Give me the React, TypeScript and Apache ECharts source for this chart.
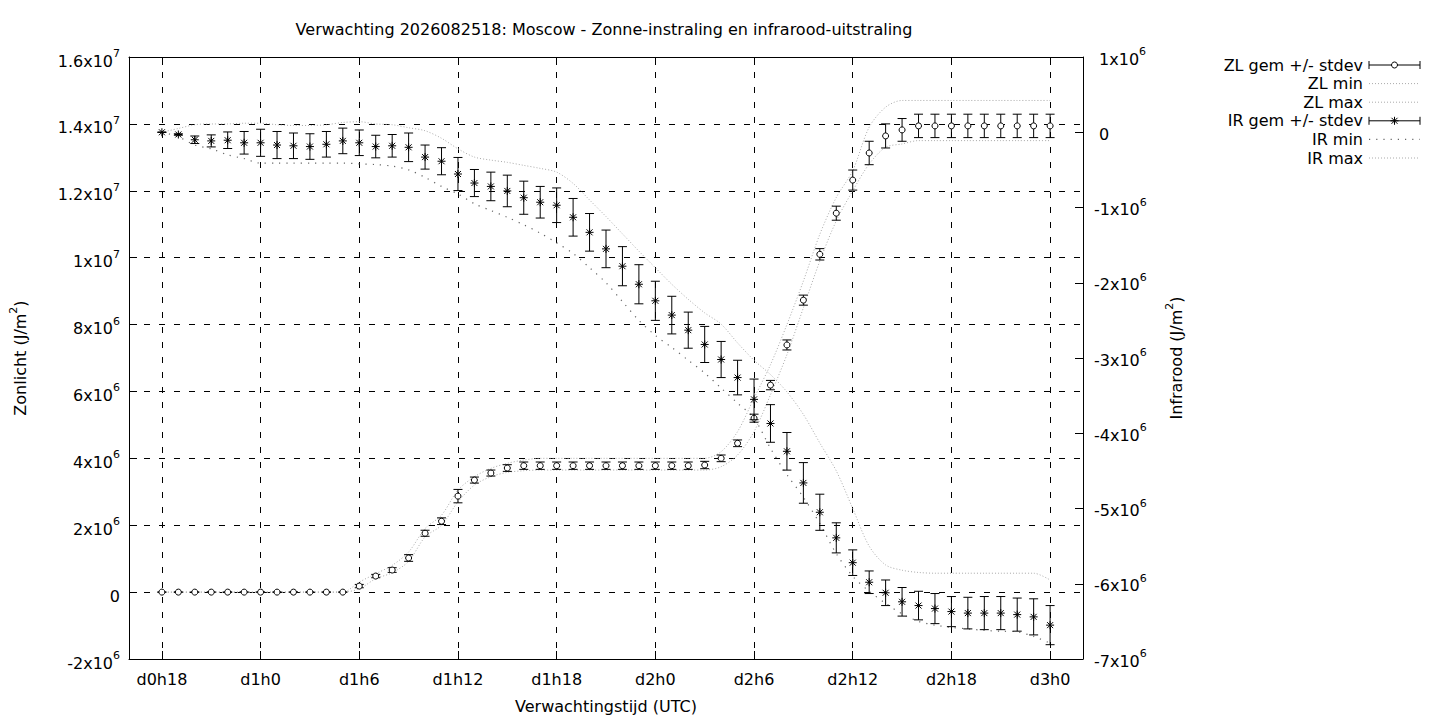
import React, { useEffect, useRef } from "react";
import * as echarts from "echarts";

// ---------- data (values in units of 1e6 J/m2) ----------
const SCALE = 1e6;
const PAD = 2; // empty hours before the first and after the last point
const tickLabels = ["d0h18", "d1h0", "d1h6", "d1h12", "d1h18", "d2h0", "d2h6", "d2h12", "d2h18", "d3h0"];
const TICK_STEP = 6;

const zlMean = [
  0, 0, 0, 0, 0, 0, 0, 0, 0, 0, 0, 0,
  0.18, 0.48, 0.66, 1.02, 1.76, 2.12, 2.87, 3.35, 3.56, 3.71,
  3.78, 3.78, 3.78, 3.78, 3.78, 3.78, 3.78, 3.78, 3.78, 3.78, 3.78, 3.8,
  4.0, 4.45, 5.2, 6.19, 7.39, 8.73, 10.1, 11.33, 12.32, 13.13, 13.64, 13.82,
  13.94, 13.94, 13.94, 13.94, 13.94, 13.94, 13.94, 13.94, 13.94,
];
const zlSd = [
  0, 0, 0, 0, 0, 0, 0, 0, 0, 0, 0, 0,
  0.05, 0.05, 0.07, 0.1, 0.09, 0.1, 0.2, 0.09, 0.09, 0.1,
  0.11, 0.11, 0.11, 0.11, 0.11, 0.11, 0.11, 0.11, 0.11, 0.11, 0.11, 0.11,
  0.1, 0.1, 0.12, 0.14, 0.15, 0.15, 0.17, 0.21, 0.3, 0.35, 0.36, 0.34,
  0.35, 0.35, 0.35, 0.35, 0.35, 0.35, 0.35, 0.35, 0.35,
];
const zlMin = [
  0, 0, 0, 0, 0, 0, 0, 0, 0, 0, 0, 0,
  0.1, 0.4, 0.58, 0.92, 1.65, 2.0, 2.7, 3.2, 3.45, 3.58,
  3.63, 3.65, 3.65, 3.65, 3.65, 3.65, 3.65, 3.65, 3.65, 3.65, 3.65, 3.65,
  3.75, 4.1, 4.8, 5.9, 7.1, 8.5, 9.9, 11.1, 12.0, 12.8, 13.3, 13.4,
  13.5, 13.5, 13.5, 13.5, 13.5, 13.5, 13.5, 13.5, 13.5,
];
const zlMax = [
  0, 0, 0, 0, 0, 0, 0, 0, 0, 0, 0, 0,
  0.3, 0.55, 0.8, 1.2, 1.9, 2.3, 3.05, 3.45, 3.7, 3.85,
  3.95, 4.0, 4.0, 4.0, 4.0, 4.0, 4.0, 4.0, 4.0, 4.0, 4.0, 4.0,
  4.2, 4.8, 5.8, 6.8, 8.0, 9.3, 10.7, 11.8, 12.6, 13.9, 14.5, 14.7,
  14.7, 14.7, 14.7, 14.7, 14.7, 14.7, 14.7, 14.7, 14.7,
];

const irMean = [
  0.0, -0.03, -0.1, -0.115, -0.106, -0.14, -0.14, -0.17, -0.18, -0.19, -0.16, -0.115,
  -0.14, -0.19, -0.18, -0.2, -0.33, -0.385, -0.555, -0.675, -0.72, -0.78,
  -0.87, -0.93, -0.97, -1.13, -1.33, -1.55, -1.78, -2.02, -2.24, -2.43, -2.63, -2.82,
  -3.02, -3.26, -3.55, -3.87, -4.24, -4.66, -5.05, -5.39, -5.72, -5.98, -6.12, -6.24,
  -6.29, -6.33, -6.37, -6.39, -6.39, -6.39, -6.41, -6.44, -6.55,
];
const irSd = [
  0, 0.01, 0.05, 0.08, 0.11, 0.15, 0.18, 0.18, 0.17, 0.17, 0.17, 0.17,
  0.17, 0.15, 0.15, 0.19, 0.16, 0.18, 0.22, 0.18, 0.19, 0.21,
  0.22, 0.21, 0.23, 0.25, 0.25, 0.25, 0.26, 0.26, 0.26, 0.25, 0.24, 0.24,
  0.24, 0.23, 0.27, 0.25, 0.25, 0.27, 0.24, 0.2, 0.17, 0.15, 0.17, 0.19,
  0.19, 0.2, 0.2, 0.21, 0.22, 0.22, 0.22, 0.24, 0.26,
];
const irMin = [
  0.0, -0.06, -0.17, -0.22, -0.3, -0.35, -0.41, -0.41, -0.41, -0.41, -0.41, -0.41,
  -0.42, -0.43, -0.45, -0.5, -0.6, -0.72, -0.82, -0.95, -1.04, -1.13,
  -1.23, -1.34, -1.47, -1.61, -1.8, -2.0, -2.25, -2.5, -2.7, -2.86, -3.03, -3.2,
  -3.4, -3.6, -3.8, -4.2, -4.55, -4.85, -5.2, -5.6, -5.9, -6.1, -6.26, -6.4,
  -6.5, -6.55, -6.58, -6.6, -6.62, -6.63, -6.64, -6.7, -6.79,
];
const irMax = [
  0.0, 0.05, 0.1, 0.11, 0.11, 0.12, 0.12, 0.1, 0.09, 0.09, 0.1, 0.13,
  0.14, 0.11, 0.1, 0.06, 0.02, -0.08, -0.22, -0.33, -0.37, -0.4,
  -0.44, -0.48, -0.53, -0.68, -0.9, -1.12, -1.35, -1.58, -1.8, -2.02, -2.22, -2.4,
  -2.55, -2.8, -3.03, -3.22, -3.45, -3.75, -4.13, -4.5, -5.0, -5.5, -5.75, -5.82,
  -5.85, -5.86, -5.86, -5.86, -5.86, -5.86, -5.86, -5.86, -5.95,
];

const TITLE = "Verwachting 2026082518: Moscow - Zonne-instraling en infrarood-uitstraling";
const legendItems = [
  { label: "ZL gem +/- stdev", kind: "circle" },
  { label: "ZL min", kind: "dot" },
  { label: "ZL max", kind: "dot" },
  { label: "IR gem +/- stdev", kind: "star" },
  { label: "IR min", kind: "sparse" },
  { label: "IR max", kind: "dot" },
];

// ---------- helpers ----------
const FONT = "DejaVu Sans";
const FS = 16;
const SUP = 11;
const N = zlMean.length;
const categories: string[] = [];
for (let k = 0; k < N + 2 * PAD; k++) {
  const h = k - PAD;
  categories.push(h >= 0 && h < N && h % TICK_STEP === 0 ? tickLabels[h / TICK_STEP] : "");
}
const isTick = (idx: number) => {
  const h = idx - PAD;
  return h >= 0 && h < N && h % TICK_STEP === 0;
};

const sci = (v: number, lead: boolean) => {
  const sp = lead && v >= 0 ? "\u00a0" : "";
  if (Math.abs(v) < 1e-9) return `{z|${sp}0}`;
  const e = Math.floor(Math.log10(Math.abs(v)) + 1e-9);
  const m = Math.round((v / Math.pow(10, e)) * 10) / 10;
  const ms = Number.isInteger(m) ? String(m) : m.toFixed(1);
  return `{m|${sp}${ms}x10}{s|${e}}`;
};

const labelRich = {
  m: { fontFamily: FONT, fontSize: FS, color: "#000", lineHeight: 26 },
  z: { fontFamily: FONT, fontSize: FS, color: "#000", lineHeight: 26 },
  s: { fontFamily: FONT, fontSize: SUP, color: "#000", lineHeight: 8, verticalAlign: "top" },
};
const nameRich = {
  m: { fontFamily: FONT, fontSize: FS, color: "#000", lineHeight: 24 },
  s: { fontFamily: FONT, fontSize: SUP, color: "#000", lineHeight: 10, verticalAlign: "top" },
};

const black = { stroke: "#000", lineWidth: 1, fill: "none" };

function markerChildren(kind: string, cx: number, cy: number) {
  if (kind === "circle") {
    return [{ type: "circle", shape: { cx, cy, r: 3 }, style: { stroke: "#000", fill: "#fff", lineWidth: 1 } }];
  }
  const a = 4;
  const d = 3;
  return [
    { type: "line", shape: { x1: cx - a, y1: cy, x2: cx + a, y2: cy }, style: black },
    { type: "line", shape: { x1: cx, y1: cy - a, x2: cx, y2: cy + a }, style: black },
    { type: "line", shape: { x1: cx - d, y1: cy - d, x2: cx + d, y2: cy + d }, style: black },
    { type: "line", shape: { x1: cx - d, y1: cy + d, x2: cx + d, y2: cy - d }, style: black },
  ];
}

function errorBarSeries(name: string, means: number[], sds: number[], yAxisIndex: number, kind: string) {
  return {
    type: "custom",
    name,
    xAxisIndex: 0,
    yAxisIndex,
    z: 10,
    data: means.map((m, i) => [i + PAD, m * SCALE, sds[i] * SCALE]),
    encode: { x: 0, y: 1 },
    renderItem: (_params: any, api: any) => {
      const x = api.value(0);
      const m = api.value(1);
      const s = api.value(2);
      const c = api.coord([x, m]);
      const hi = api.coord([x, m + s]);
      const lo = api.coord([x, m - s]);
      const cap = 4.5;
      const children: any[] = [
        { type: "line", shape: { x1: c[0], y1: hi[1], x2: c[0], y2: lo[1] }, style: black },
        { type: "line", shape: { x1: c[0] - cap, y1: hi[1], x2: c[0] + cap, y2: hi[1] }, style: black },
        { type: "line", shape: { x1: c[0] - cap, y1: lo[1], x2: c[0] + cap, y2: lo[1] }, style: black },
        ...markerChildren(kind, c[0], c[1]),
      ];
      return { type: "group", children };
    },
  };
}

function rangeLine(name: string, vals: number[], yAxisIndex: number, sparse: boolean) {
  return {
    type: "line",
    name,
    xAxisIndex: 0,
    yAxisIndex,
    z: 3,
    symbol: "none",
    smooth: 0.3,
    data: vals.map((v, i) => [i + PAD, v * SCALE]),
    lineStyle: sparse
      ? { color: "#666", width: 1.2, type: [1.2, 6] }
      : { color: "#aaa", width: 1, type: [1, 2] },
  };
}

function legendGraphics() {
  const out: any[] = [];
  const textRight = 1363;
  const x1 = 1369;
  const x2 = 1420;
  legendItems.forEach((it, i) => {
    const y = 65 + i * 18.6;
    out.push({
      type: "text",
      x: textRight,
      y,
      style: { text: it.label, font: `${FS}px "${FONT}"`, fill: "#000", align: "right", verticalAlign: "middle" },
    });
    if (it.kind === "circle" || it.kind === "star") {
      out.push({ type: "line", shape: { x1, y1: y, x2, y2: y }, style: black });
      out.push({ type: "line", shape: { x1, y1: y - 4, x2: x1, y2: y + 4 }, style: black });
      out.push({ type: "line", shape: { x1: x2, y1: y - 4, x2, y2: y + 4 }, style: black });
      const cx = (x1 + x2) / 2;
      markerChildren(it.kind, cx, y).forEach((c) => out.push(c));
    } else if (it.kind === "sparse") {
      out.push({ type: "line", shape: { x1, y1: y, x2, y2: y }, style: { stroke: "#666", lineWidth: 1.2, lineDash: [1.2, 6] } });
    } else {
      out.push({ type: "line", shape: { x1, y1: y, x2, y2: y }, style: { stroke: "#aaa", lineWidth: 1, lineDash: [1, 2] } });
    }
  });
  return out;
}

export default function App() {
  const ref = useRef<HTMLDivElement>(null);
  useEffect(() => {
    if (!ref.current) return;
    const chart = echarts.init(ref.current, undefined, { renderer: "svg" });
    const dash = [6, 9];
    const option: any = {
      animation: false,
      backgroundColor: "#fff",
      textStyle: { fontFamily: FONT },
      grid: { left: 124, top: 57, width: 959, height: 602, containLabel: false },
      xAxis: [
        {
          type: "category",
          data: categories,
          boundaryGap: false,
          position: "bottom",
          name: "Verwachtingstijd (UTC)",
          nameLocation: "middle",
          nameGap: 39,
          nameTextStyle: { fontFamily: FONT, fontSize: FS, color: "#000", verticalAlign: "top" },
          axisLine: { show: true, onZero: false, lineStyle: { color: "#000", width: 1 } },
          axisTick: { show: true, inside: true, length: 8, interval: (i: number) => isTick(i), lineStyle: { color: "#000" } },
          axisLabel: { show: true, interval: (i: number) => isTick(i), margin: 12, fontFamily: FONT, fontSize: FS, color: "#000" },
          splitLine: { show: true, interval: (i: number) => isTick(i), lineStyle: { color: "#000", width: 1, type: dash } },
        },
        {
          type: "category",
          data: categories,
          boundaryGap: false,
          position: "top",
          axisLine: { show: true, onZero: false, lineStyle: { color: "#000", width: 1 } },
          axisTick: { show: true, inside: true, length: 8, interval: (i: number) => isTick(i), lineStyle: { color: "#000" } },
          axisLabel: { show: false },
          splitLine: { show: false },
        },
      ],
      yAxis: [
        {
          type: "value",
          position: "left",
          min: -2e6,
          max: 1.6e7,
          interval: 2e6,
          name: "{m|Zonlicht (J/m}{s|2}{m|)}",
          nameLocation: "middle",
          nameRotate: 90,
          nameGap: 97,
          nameTextStyle: { rich: nameRich },
          axisLine: { show: true, onZero: false, lineStyle: { color: "#000", width: 1 } },
          axisTick: { show: true, inside: true, length: 8, lineStyle: { color: "#000" } },
          axisLabel: { formatter: (v: number) => sci(v, false), rich: labelRich, margin: 9, padding: [8, 0, 0, 0] },
          splitLine: { show: true, lineStyle: { color: "#000", width: 1, type: dash } },
        },
        {
          type: "value",
          position: "right",
          min: -7e6,
          max: 1e6,
          interval: 1e6,
          name: "{m|Infrarood (J/m}{s|2}{m|)}",
          nameLocation: "middle",
          nameRotate: 90,
          nameGap: 81,
          nameTextStyle: { rich: nameRich },
          axisLine: { show: true, onZero: false, lineStyle: { color: "#000", width: 1 } },
          axisTick: { show: true, inside: true, length: 8, lineStyle: { color: "#000" } },
          axisLabel: { formatter: (v: number) => sci(v, true), rich: labelRich, margin: 11, padding: [4, 0, 0, 0] },
          splitLine: { show: false },
        },
      ],
      graphic: [
        {
          type: "text",
          x: 604,
          y: 29,
          style: { text: TITLE, font: `${FS}px "${FONT}"`, fill: "#000", align: "center", verticalAlign: "middle" },
        },
        ...legendGraphics(),
      ],
      series: [
        rangeLine("ZL min", zlMin, 0, false),
        rangeLine("ZL max", zlMax, 0, false),
        rangeLine("IR min", irMin, 1, true),
        rangeLine("IR max", irMax, 1, false),
        errorBarSeries("ZL gem +/- stdev", zlMean, zlSd, 0, "circle"),
        errorBarSeries("IR gem +/- stdev", irMean, irSd, 1, "star"),
      ],
    };
    chart.setOption(option);
    return () => chart.dispose();
  }, []);
  return (
    <div
      ref={ref}
      style={{ position: "fixed", left: 0, top: 0, width: 1440, height: 720, background: "#fff" }}
    />
  );
}
